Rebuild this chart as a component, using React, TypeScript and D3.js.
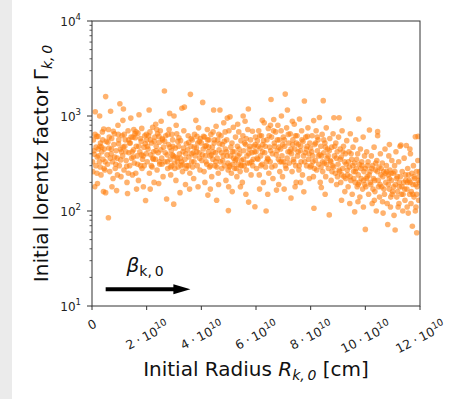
import React, { useEffect, useRef } from 'react';
import * as d3 from 'd3';

// initial radius (units of 1e10 cm) and initial lorentz factor
const shells0to2: [number, number][] = [
  [0.02, 330], [0.05, 560], [0.07, 430], [0.1, 180], [0.12, 1110], [0.14, 300], [0.15, 470], [0.18, 250],
  [0.2, 195], [0.22, 610], [0.25, 380], [0.28, 1000], [0.3, 290], [0.31, 520], [0.33, 240], [0.36, 420],
  [0.38, 680], [0.4, 350], [0.42, 160], [0.45, 450], [0.47, 270], [0.5, 1600], [0.5, 156], [0.52, 540],
  [0.55, 390], [0.57, 310], [0.6, 85], [0.6, 720], [0.62, 460], [0.65, 260], [0.68, 1120], [0.7, 400],
  [0.72, 580], [0.75, 330], [0.77, 220], [0.8, 500], [0.82, 650], [0.85, 280], [0.88, 430], [0.9, 164],
  [0.92, 360], [0.95, 800], [0.97, 510], [1.0, 300], [1.02, 1345], [1.04, 450], [1.06, 230], [1.1, 620],
  [1.12, 380], [1.15, 1185], [1.17, 270], [1.2, 480], [1.22, 560], [1.25, 340], [1.28, 200], [1.3, 153],
  [1.32, 700], [1.35, 410], [1.38, 300], [1.4, 520], [1.42, 950], [1.45, 360], [1.48, 240], [1.5, 600],
  [1.52, 440], [1.55, 320], [1.58, 590], [1.6, 250], [1.62, 480], [1.65, 380], [1.68, 660], [1.7, 210],
  [1.72, 1030], [1.75, 420], [1.78, 300], [1.8, 540], [1.82, 740], [1.85, 350], [1.88, 180], [1.9, 470],
  [1.93, 620], [1.96, 129], [1.98, 400], [0.08, 395], [0.17, 610], [0.27, 330], [0.35, 470], [0.44, 280],
  [0.58, 530], [0.67, 360], [0.78, 690], [0.87, 310], [0.98, 560], [1.08, 420], [1.18, 640], [1.27, 295],
  [1.37, 520], [1.47, 420], [1.57, 650], [1.67, 310], [1.77, 580], [1.87, 380], [1.95, 510], [0.03, 260],
  [0.43, 730], [0.73, 180], [1.13, 900], [1.33, 250], [1.63, 170], [1.83, 280], [0.93, 240], [0.23, 450],
  [1.53, 720], [0.11, 640], [0.19, 370], [0.29, 480], [0.39, 560], [0.48, 330], [0.63, 600], [0.71, 450],
  [0.83, 370], [0.96, 640], [1.05, 345], [1.14, 470], [1.24, 420], [1.34, 560], [1.43, 600], [1.51, 370],
  [1.61, 680], [1.71, 480], [1.81, 390], [1.91, 300], [1.99, 640],
];

const shells2to4: [number, number][] = [
  [2.0, 560], [2.02, 330], [2.05, 450], [2.09, 1157], [2.1, 250], [2.12, 680], [2.15, 390], [2.18, 520],
  [2.2, 290], [2.22, 760], [2.25, 420], [2.27, 200], [2.3, 600], [2.32, 350], [2.35, 480], [2.38, 270],
  [2.4, 650], [2.42, 410], [2.44, 195], [2.46, 530], [2.48, 310], [2.5, 700], [2.52, 440], [2.55, 360],
  [2.57, 580], [2.6, 230], [2.62, 470], [2.65, 1830], [2.67, 330], [2.7, 620], [2.73, 134], [2.75, 390],
  [2.77, 280], [2.8, 500], [2.82, 720], [2.84, 1065], [2.86, 350], [2.88, 240], [2.9, 430], [2.92, 300],
  [2.95, 560], [2.97, 380], [2.99, 118], [3.0, 1000], [3.02, 320], [3.05, 460], [3.07, 210], [3.1, 650],
  [3.12, 360], [3.15, 290], [3.17, 480], [3.2, 400], [3.22, 156], [3.24, 550], [3.27, 330], [3.29, 1208],
  [3.31, 260], [3.33, 420], [3.36, 700], [3.38, 1240], [3.4, 350], [3.42, 190], [3.45, 510], [3.47, 300],
  [3.5, 440], [3.52, 620], [3.55, 370], [3.58, 250], [3.6, 1690], [3.62, 480], [3.65, 330], [3.67, 560],
  [3.7, 410], [3.72, 220], [3.75, 640], [3.77, 380], [3.8, 900], [3.82, 460], [3.85, 300], [3.87, 520],
  [3.9, 750], [3.92, 410], [3.95, 270], [3.97, 580], [2.07, 620], [2.17, 300], [2.28, 540], [2.37, 720],
  [2.47, 330], [2.58, 560], [2.68, 410], [2.78, 640], [2.87, 290], [2.96, 480], [3.04, 370], [3.14, 540],
  [3.26, 300], [3.35, 460], [3.44, 280], [3.54, 530], [3.64, 400], [3.74, 470], [3.84, 610], [3.94, 360],
  [2.13, 170], [2.53, 880], [3.08, 800], [3.57, 170], [3.88, 180], [2.33, 820], [3.18, 590], [2.92, 640],
  [3.68, 290], [2.23, 360], [2.03, 480], [2.14, 560], [2.24, 350], [2.34, 430], [2.45, 610], [2.56, 310],
  [2.66, 540], [2.76, 330], [2.85, 470], [2.94, 390], [3.03, 280], [3.13, 330], [3.23, 360], [3.32, 310],
  [3.43, 400], [3.53, 300], [3.63, 580], [3.73, 330], [3.83, 420], [3.93, 540],
];

const shells4to6: [number, number][] = [
  [4.0, 520], [4.02, 340], [4.05, 1390], [4.07, 450], [4.1, 260], [4.12, 600], [4.15, 380], [4.18, 490],
  [4.2, 310], [4.22, 720], [4.24, 147], [4.26, 420], [4.28, 560], [4.3, 290], [4.32, 380], [4.35, 640],
  [4.38, 230], [4.4, 470], [4.42, 350], [4.45, 1157], [4.47, 520], [4.5, 300], [4.52, 410], [4.54, 780],
  [4.56, 130], [4.58, 360], [4.6, 560], [4.62, 250], [4.65, 440], [4.68, 1157], [4.7, 330], [4.72, 620],
  [4.75, 280], [4.77, 500], [4.8, 380], [4.82, 850], [4.85, 300], [4.87, 680], [4.9, 210], [4.92, 420],
  [4.95, 950], [4.97, 320], [4.99, 101], [5.0, 180], [5.01, 700], [5.03, 290], [5.05, 980], [5.07, 380],
  [5.1, 250], [5.12, 520], [5.15, 310], [5.17, 760], [5.2, 420], [5.22, 280], [5.25, 600], [5.27, 350],
  [5.3, 230], [5.32, 480], [5.35, 310], [5.37, 680], [5.4, 400], [5.42, 260], [5.45, 550], [5.47, 340],
  [5.5, 200], [5.52, 620], [5.55, 430], [5.57, 300], [5.6, 880], [5.62, 500], [5.65, 270], [5.67, 380],
  [5.7, 720], [5.72, 1185], [5.73, 124], [5.75, 450], [5.77, 320], [5.8, 560], [5.82, 240], [5.85, 410],
  [5.87, 690], [5.9, 350], [5.93, 480], [5.96, 111], [5.98, 600], [4.08, 610], [4.17, 330], [4.27, 470],
  [4.37, 390], [4.48, 560], [4.57, 290], [4.67, 510], [4.78, 340], [4.88, 450], [4.98, 270], [5.08, 470],
  [5.18, 360], [5.28, 280], [5.38, 450], [5.48, 300], [5.58, 520], [5.68, 320], [5.78, 480], [5.88, 300],
  [5.97, 500], [4.13, 200], [4.33, 170], [4.63, 190], [5.13, 160], [5.43, 180], [5.63, 150], [4.93, 560],
  [5.33, 820], [5.53, 1000], [4.43, 680], [4.04, 390], [4.14, 480], [4.23, 560], [4.34, 300], [4.44, 420],
  [4.53, 330], [4.64, 640], [4.74, 410], [4.84, 540], [4.94, 380], [5.04, 300], [5.14, 420], [5.24, 340],
  [5.34, 380], [5.44, 300], [5.54, 350], [5.64, 580], [5.74, 400], [5.84, 330], [5.94, 420],
];

const shells6to8: [number, number][] = [
  [6.0, 420], [6.02, 280], [6.05, 550], [6.07, 350], [6.1, 700], [6.12, 240], [6.15, 460], [6.17, 380],
  [6.2, 620], [6.22, 310], [6.25, 500], [6.27, 200], [6.3, 850], [6.32, 410], [6.35, 290], [6.37, 100],
  [6.4, 560], [6.42, 360], [6.45, 740], [6.47, 250], [6.5, 470], [6.52, 330], [6.55, 1490], [6.57, 600],
  [6.6, 400], [6.62, 220], [6.65, 920], [6.67, 520], [6.7, 300], [6.72, 680], [6.75, 166], [6.77, 430],
  [6.8, 800], [6.82, 350], [6.85, 560], [6.87, 260], [6.9, 450], [6.92, 700], [6.95, 380], [6.97, 230],
  [7.0, 600], [7.02, 330], [7.05, 480], [7.07, 1700], [7.1, 280], [7.12, 750], [7.15, 1157], [7.17, 420],
  [7.2, 520], [7.22, 320], [7.25, 650], [7.28, 137], [7.3, 400], [7.32, 260], [7.35, 560], [7.37, 350],
  [7.4, 820], [7.42, 450], [7.45, 300], [7.47, 200], [7.5, 620], [7.52, 380], [7.55, 500], [7.57, 270],
  [7.59, 929], [7.62, 430], [7.65, 330], [7.67, 700], [7.7, 240], [7.72, 540], [7.75, 159], [7.77, 1440],
  [7.8, 410], [7.82, 600], [7.85, 300], [7.87, 480], [7.9, 750], [7.92, 350], [7.95, 220], [7.97, 520],
  [6.08, 480], [6.18, 300], [6.28, 550], [6.38, 330], [6.48, 620], [6.58, 290], [6.68, 480], [6.78, 560],
  [6.88, 330], [6.98, 500], [7.08, 300], [7.18, 640], [7.28, 450], [7.38, 330], [7.48, 520], [7.58, 300],
  [7.68, 560], [7.78, 330], [7.88, 610], [7.98, 290], [6.13, 170], [6.43, 150], [6.83, 190], [7.03, 170],
  [7.43, 180], [7.63, 200], [6.23, 900], [6.53, 800], [6.93, 1000], [7.33, 880], [6.04, 360], [6.14, 620],
  [6.24, 420], [6.34, 480], [6.44, 350], [6.54, 430], [6.64, 700], [6.74, 390], [6.84, 470], [6.94, 330],
  [7.04, 560], [7.14, 360], [7.24, 420], [7.34, 500], [7.44, 620], [7.54, 420], [7.64, 480], [7.74, 380],
  [7.84, 450], [7.94, 400],
];

const shells8to10: [number, number][] = [
  [8.0, 460], [8.02, 300], [8.05, 620], [8.07, 380], [8.1, 230], [8.11, 895], [8.12, 107], [8.15, 500],
  [8.17, 340], [8.2, 700], [8.22, 270], [8.25, 430], [8.27, 560], [8.3, 310], [8.32, 966], [8.35, 200],
  [8.37, 480], [8.39, 177], [8.4, 380], [8.42, 640], [8.44, 260], [8.46, 1450], [8.48, 410], [8.5, 320],
  [8.52, 520], [8.55, 230], [8.57, 750], [8.6, 360], [8.62, 450], [8.65, 280], [8.68, 91], [8.7, 580],
  [8.72, 340], [8.75, 210], [8.77, 470], [8.8, 300], [8.82, 650], [8.85, 958], [8.87, 380], [8.9, 250],
  [8.92, 520], [8.95, 190], [8.97, 420], [9.0, 310], [9.02, 600], [9.04, 958], [9.06, 260], [9.08, 450],
  [9.1, 200], [9.12, 370], [9.15, 700], [9.17, 280], [9.2, 480], [9.22, 230], [9.25, 160], [9.27, 400],
  [9.3, 310], [9.32, 550], [9.35, 240], [9.37, 180], [9.4, 420], [9.42, 290], [9.45, 650], [9.47, 210],
  [9.5, 350], [9.52, 150], [9.55, 470], [9.57, 260], [9.6, 320], [9.61, 98], [9.63, 200], [9.65, 560],
  [9.67, 280], [9.7, 180], [9.72, 400], [9.74, 240], [9.76, 929], [9.78, 310], [9.8, 140], [9.82, 450],
  [9.85, 220], [9.87, 330], [9.9, 170], [9.92, 600], [9.95, 260], [9.97, 380], [8.08, 330], [8.18, 520],
  [8.28, 380], [8.38, 290], [8.48, 560], [8.58, 310], [8.68, 430], [8.78, 260], [8.88, 480], [8.98, 230],
  [9.08, 350], [9.18, 420], [9.28, 220], [9.38, 330], [9.48, 400], [9.58, 220], [9.68, 350], [9.78, 200],
  [9.88, 300], [9.98, 190], [8.53, 150], [9.13, 130], [9.43, 120], [9.73, 125], [9.93, 110], [8.04, 420],
  [8.14, 280], [8.24, 600], [8.34, 390], [8.44, 330], [8.54, 470], [8.64, 380], [8.74, 330], [8.84, 290],
  [8.94, 360], [9.04, 270], [9.14, 240], [9.24, 330], [9.34, 270], [9.44, 230], [9.54, 300], [9.64, 260],
  [9.74, 190], [9.84, 280], [9.94, 210],
];

const shells10to12: [number, number][] = [
  [10.0, 64], [10.0, 280], [10.02, 180], [10.05, 420], [10.07, 230], [10.1, 330], [10.12, 150], [10.15, 713],
  [10.17, 260], [10.2, 190], [10.22, 380], [10.25, 120], [10.27, 300], [10.3, 220], [10.32, 470], [10.35, 160],
  [10.37, 270], [10.4, 100], [10.42, 340], [10.45, 684], [10.45, 620], [10.47, 210], [10.5, 290], [10.52, 140],
  [10.55, 400], [10.57, 240], [10.6, 180], [10.62, 320], [10.65, 95], [10.67, 260], [10.7, 150], [10.72, 450],
  [10.75, 200], [10.77, 300], [10.8, 120], [10.82, 72], [10.84, 240], [10.86, 380], [10.88, 170], [10.9, 270],
  [10.92, 110], [10.95, 210], [10.97, 340], [11.0, 160], [11.02, 250], [11.05, 90], [11.07, 300], [11.09, 63],
  [11.1, 190], [11.12, 420], [11.15, 140], [11.17, 230], [11.2, 110], [11.22, 330], [11.25, 180], [11.27, 480],
  [11.3, 495], [11.32, 150], [11.35, 260], [11.37, 100], [11.4, 200], [11.42, 360], [11.45, 130], [11.47, 240],
  [11.5, 490], [11.52, 170], [11.55, 280], [11.57, 95], [11.6, 210], [11.62, 150], [11.65, 400], [11.67, 120],
  [11.7, 250], [11.72, 69], [11.74, 190], [11.76, 300], [11.78, 140], [11.8, 220], [11.83, 605], [11.85, 110],
  [11.87, 260], [11.88, 59], [11.9, 180], [11.92, 340], [11.93, 610], [11.95, 130], [11.97, 230], [11.99, 200],
  [10.08, 300], [10.18, 200], [10.28, 170], [10.38, 320], [10.48, 180], [10.58, 280], [10.68, 170], [10.78, 260],
  [10.88, 220], [10.98, 150], [11.08, 260], [11.18, 160], [11.28, 230], [11.38, 150], [11.48, 210], [11.58, 240],
  [11.68, 160], [11.78, 230], [11.88, 150], [11.98, 260], [10.33, 130], [10.63, 125], [10.93, 140], [11.23, 120],
  [11.53, 110], [11.83, 100], [11.63, 450], [10.88, 500], [10.04, 220], [10.14, 240], [10.24, 280], [10.34, 210],
  [10.44, 260], [10.54, 190], [10.64, 230], [10.74, 250], [10.84, 190], [10.94, 250], [11.04, 180], [11.14, 220],
  [11.24, 200], [11.34, 180], [11.44, 170], [11.54, 200], [11.64, 200], [11.74, 150], [11.84, 190], [11.94, 210],
];

const xTicks = [0, 2, 4, 6, 8, 10, 12];
const yDecades = [1, 2, 3, 4];

// beta arrow annotation, in data units
const arrowFrom = 0.5;
const arrowTo = 3.6;
const arrowGamma = 15;
const betaGamma = 23;

const font = 'DejaVu Sans, sans-serif';

const App = () => {
  const ref = useRef<SVGSVGElement>(null);

  useEffect(() => {
    const width = 452;
    const height = 399;
    const margin = { top: 21, right: 32, bottom: 93, left: 92 };

    const svg = d3.select(ref.current);
    svg.selectAll('*').remove();

    // grey strip on the left edge of the page
    svg.append('rect').attr('x', 0).attr('y', 0).attr('width', 12).attr('height', height).attr('fill', '#ebebeb');

    const x = d3.scaleLinear().domain([0, 12]).range([margin.left, width - margin.right]);
    const y = d3.scaleLog().domain([10, 1e4]).range([height - margin.bottom, margin.top]);

    svg.append('clipPath').attr('id', 'plotclip')
      .append('rect')
      .attr('x', x(0)).attr('y', y(1e4))
      .attr('width', x(12) - x(0)).attr('height', y(10) - y(1e4));

    const points = [...shells0to2, ...shells2to4, ...shells4to6, ...shells6to8, ...shells8to10, ...shells10to12];

    svg.append('g')
      .attr('clip-path', 'url(#plotclip)')
      .selectAll('circle')
      .data(points)
      .enter()
      .append('circle')
      .attr('cx', (d) => x(d[0]))
      .attr('cy', (d) => y(d[1]))
      .attr('r', 2.8)
      .attr('fill', '#ff7f0e')
      .attr('fill-opacity', 0.6);

    // frame
    svg.append('rect')
      .attr('x', x(0)).attr('y', y(1e4))
      .attr('width', x(12) - x(0)).attr('height', y(10) - y(1e4))
      .attr('fill', 'none').attr('stroke', '#333').attr('stroke-width', 1);

    // y axis ticks
    const minor = y.ticks().filter((v) => Math.abs(Math.log10(v) - Math.round(Math.log10(v))) > 1e-6);
    svg.append('g').selectAll('line').data(minor).enter().append('line')
      .attr('x1', x(0) - 2.5).attr('x2', x(0))
      .attr('y1', (d) => y(d)).attr('y2', (d) => y(d))
      .attr('stroke', '#333').attr('stroke-width', 0.8);

    const yMajor = svg.append('g').selectAll('g').data(yDecades).enter().append('g');
    yMajor.append('line')
      .attr('x1', x(0) - 5).attr('x2', x(0))
      .attr('y1', (d) => y(10 ** d)).attr('y2', (d) => y(10 ** d))
      .attr('stroke', '#333').attr('stroke-width', 1);
    const yLab = yMajor.append('text')
      .attr('x', x(0) - 11)
      .attr('y', (d) => y(10 ** d) + 4.5)
      .attr('text-anchor', 'end')
      .attr('font-family', font).attr('font-size', 12).attr('fill', '#222');
    yLab.append('tspan').text('10');
    yLab.append('tspan').attr('dy', -5.5).attr('font-size', 8.5).text((d) => String(d));

    // x axis ticks, rotated labels
    const xg = svg.append('g');
    xTicks.forEach((t) => {
      xg.append('line')
        .attr('x1', x(t)).attr('x2', x(t))
        .attr('y1', y(10)).attr('y2', y(10) + 4)
        .attr('stroke', '#333').attr('stroke-width', 1);
      const lab = xg.append('text')
        .attr('font-family', font).attr('font-size', 12.5).attr('fill', '#222');
      if (t === 0) {
        lab.append('tspan').text('0');
      } else {
        lab.append('tspan').text(`${t}\u2005·\u200510`);
        lab.append('tspan').attr('dy', -5.5).attr('font-size', 9.5).text('10');
      }
      const bb = (lab.node() as SVGTextElement).getBBox();
      const a = (27 * Math.PI) / 180;
      const rotH = bb.width * Math.sin(a) + bb.height * Math.cos(a);
      const cx = bb.x + bb.width / 2;
      const cy = bb.y + bb.height / 2;
      lab.attr('transform', `translate(${x(t)},${y(10) + 10 + rotH / 2}) rotate(-27) translate(${-cx},${-cy})`);
    });

    // axis titles
    const xt = svg.append('text')
      .attr('x', (x(0) + x(12)) / 2).attr('y', 376)
      .attr('text-anchor', 'middle')
      .attr('font-family', font).attr('font-size', 20).attr('fill', '#111');
    xt.append('tspan').text('Initial Radius ');
    xt.append('tspan').attr('font-style', 'italic').text('R');
    xt.append('tspan').attr('font-style', 'italic').attr('font-size', 14).attr('dy', 4).text('k,\u20090');
    xt.append('tspan').attr('dy', -4).text(' [cm]');

    const yt = svg.append('text')
      .attr('transform', `translate(48,${(y(10) + y(1e4)) / 2}) rotate(-90)`)
      .attr('text-anchor', 'middle')
      .attr('font-family', font).attr('font-size', 20).attr('fill', '#111');
    yt.append('tspan').text('Initial lorentz factor Γ');
    yt.append('tspan').attr('font-style', 'italic').attr('font-size', 14).attr('dy', 4).text('k,\u20090');

    // beta arrow
    const ay = y(arrowGamma);
    const tipLen = 17;
    svg.append('line')
      .attr('x1', x(arrowFrom)).attr('x2', x(arrowTo) - tipLen + 1)
      .attr('y1', ay).attr('y2', ay)
      .attr('stroke', '#000').attr('stroke-width', 4);
    svg.append('path')
      .attr('d', `M${x(arrowTo)},${ay} L${x(arrowTo) - tipLen},${ay - 5} L${x(arrowTo) - tipLen},${ay + 5} Z`)
      .attr('fill', '#000');

    const bt = svg.append('text')
      .attr('x', (x(arrowFrom) + x(arrowTo)) / 2 - 3).attr('y', y(betaGamma))
      .attr('text-anchor', 'middle')
      .attr('font-family', font).attr('font-size', 20).attr('fill', '#111');
    bt.append('tspan').attr('font-style', 'italic').text('β');
    bt.append('tspan').attr('font-size', 14).attr('dy', 4).text('k,\u20090');
  }, []);

  return <svg ref={ref} width={452} height={399} style={{ position: 'absolute', left: 0, top: 0 }} />;
};

export default App;
